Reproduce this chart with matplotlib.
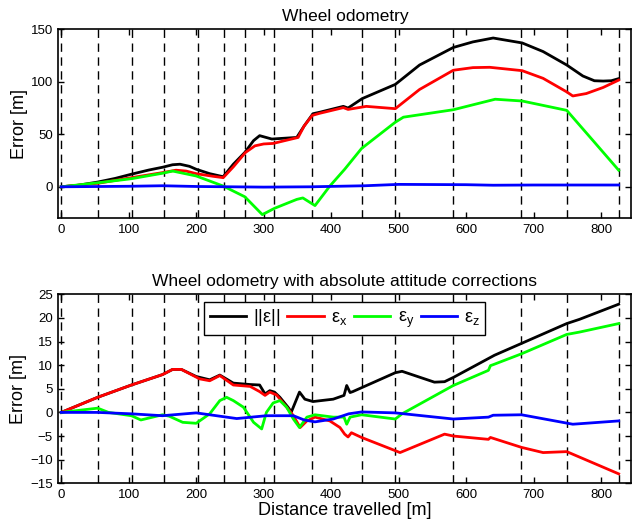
import matplotlib
matplotlib.use("Agg")
import matplotlib.pyplot as plt

plt.rcParams['font.family'] = ['Liberation Sans', 'DejaVu Sans']
plt.rcParams['mathtext.fontset'] = 'custom'
plt.rcParams['mathtext.rm'] = 'Liberation Sans'
plt.rcParams['mathtext.it'] = 'Liberation Sans'

# distances (m) where the dashed markers sit
markers = [0, 54, 105, 152, 203, 241, 272, 315, 372, 445, 495, 581, 682, 749, 826]

# --- Wheel odometry ---
top_norm_d = [0, 25, 54, 80, 104, 130, 150, 165, 176, 190, 200, 220, 240, 255, 272, 285, 294, 312, 349,
              360, 373, 383, 418, 425, 446, 495, 531, 581, 610, 640, 683, 714, 749, 773, 790, 803, 815, 826]
top_norm = [0, 1.5, 4.5, 8, 12, 16, 18.6, 21, 21.5, 19.5, 16.7, 12.5, 9.6, 21.5, 32.7, 44, 48.7, 45.5, 47,
            58, 69.6, 71, 76.6, 75, 84, 97.5, 116, 132.7, 138, 141.7, 137, 128.8, 116, 105.5, 101, 100.7, 101, 103]

top_x_d = [0, 54, 104, 150, 170, 185, 200, 225, 240, 255, 273, 287, 300, 314, 351, 360, 372, 383, 418,
           425, 452, 495, 531, 581, 610, 635, 683, 714, 749, 758, 778, 803, 826]
top_x = [0, 3.3, 8.7, 13.5, 15.8, 15, 12.5, 10, 8.7, 19, 32.7, 39, 40.8, 41.3, 47, 58, 68, 70, 75.4,
         73.7, 76.6, 74.4, 92.7, 111, 113.5, 113.8, 110.6, 103.3, 90.4, 86.5, 88.8, 94.6, 101.6]

top_y_d = [0, 54, 104, 150, 165, 200, 240, 272, 298, 316, 349, 358, 376, 398, 420, 445, 495, 507,
           581, 643, 683, 749, 788, 826]
top_y = [0, 3.8, 7.7, 12.9, 15, 10.3, 0.7, -9.5, -26.5, -20.5, -12, -10.6, -17.9, 0.7, 16.7, 36.5, 61.5, 66.3,
         73.4, 83.4, 81.7, 72.8, 44, 15.8]

top_z_d = [0, 100, 150, 200, 250, 300, 370, 450, 500, 600, 640, 700, 826]
top_z = [0, 0.5, 1, 0.3, 0, -0.3, 0, 1, 2.3, 2, 1.5, 1.7, 1.7]

# --- Wheel odometry with absolute attitude corrections ---
bot_norm_d = [0, 54, 104, 150, 165, 178, 200, 220, 235, 255, 280, 294, 302, 309, 316, 324, 336, 341,
              353, 361, 373, 403, 419, 423, 428, 432, 495, 505, 553, 568, 581, 642, 682, 749, 768, 826]
bot_norm = [0, 3.2, 5.8, 8, 9.1, 9.1, 7.6, 6.9, 7.9, 6.2, 5.9, 5.8, 3.9, 4.6, 4.3, 3.2, 1.1, 0.1,
            4.3, 2.8, 2.3, 2.8, 3.6, 5.7, 4.2, 4.4, 8.4, 8.7, 6.4, 6.5, 7.4, 12.1, 14.6, 18.8, 19.7, 22.9]

bot_x_d = [0, 54, 104, 150, 165, 178, 205, 220, 235, 255, 280, 294, 302, 309, 319, 334, 344, 354,
           364, 376, 398, 413, 420, 425, 430, 445, 495, 502, 568, 581, 633, 636, 682, 714, 749, 826]
bot_x = [0, 3.2, 5.8, 8, 9.1, 9.1, 7.1, 6.7, 7.8, 5.8, 5.5, 4.4, 3.6, 4.3, 3.7, 1.1, -0.7, -3.2,
         -1.8, -1, -1.8, -3.2, -4.6, -5.2, -4.3, -5.3, -8.1, -8.5, -4.6, -5, -5.7, -5.3, -7.4, -8.5, -8.3, -13]

bot_y_d = [0, 54, 70, 104, 118, 150, 160, 180, 200, 220, 235, 245, 255, 270, 285, 297, 304, 314, 324,
           334, 344, 353, 364, 376, 403, 419, 423, 428, 445, 495, 505, 581, 633, 636, 640, 682, 749, 768, 826]
bot_y = [0, 0.9, 0, -0.7, -1.6, -0.5, -0.8, -2.1, -2.3, -0.3, 2.5, 3.2, 2.5, 1.1, -2.1, -3.5, 0, 2, 2.5,
         1.1, -1.4, -3.2, -1, -0.5, -1, -1, -2.5, -1, -0.5, -1.4, -0.3, 5.7, 8.9, 9.9, 10.1, 12.4, 16.5, 17, 18.8]

bot_z_d = [0, 54, 104, 150, 200, 235, 260, 304, 344, 360, 376, 403, 426, 445, 470, 495, 581, 633,
           640, 682, 758, 826]
bot_z = [0, 0, -0.3, -0.7, -0.1, -0.8, -1.3, -0.7, -0.7, -1.6, -2, -1.4, -0.3, 0.1, 0, -0.1, -1.4, -1,
         -0.6, -0.5, -2.5, -1.8]

labels = [r'$||\varepsilon||$', r'$\varepsilon_{\rm x}$', r'$\varepsilon_{\rm y}$', r'$\varepsilon_{\rm z}$']
colors = ['black', 'red', '#00ff00', 'blue']

fig = plt.figure(figsize=(6.32, 5.24), dpi=100)
ax1 = fig.add_axes([0.0922, 0.5834, 0.9070, 0.3607])
ax2 = fig.add_axes([0.0922, 0.0777, 0.9070, 0.3607])

top = [(top_norm_d, top_norm), (top_x_d, top_x), (top_y_d, top_y), (top_z_d, top_z)]
bot = [(bot_norm_d, bot_norm), (bot_x_d, bot_x), (bot_y_d, bot_y), (bot_z_d, bot_z)]

for ax, series in [(ax1, top), (ax2, bot)]:
    for m in markers:
        ax.axvline(m, color='black', lw=1.0, dashes=(6, 4), zorder=1)
    for (d, v), c, lab in zip(series, colors, labels):
        ax.plot(d, v, color=c, lw=2.0, label=lab, zorder=3)
    ax.set_xlim(-4.4, 845)
    ax.set_xticks(range(0, 801, 100))
    ax.tick_params(direction='in', top=True, right=True, length=4, width=1, labelsize=9.5, pad=4)
    for s in ax.spines.values():
        s.set_linewidth(1.2)
    ax.set_ylabel('Error [m]', fontsize=13, labelpad=2)

ax1.set_ylim(-30, 150)
ax1.set_yticks([0, 50, 100, 150])
ax1.set_title('Wheel odometry', fontsize=12.5, pad=6)

ax2.set_ylim(-15, 25)
ax2.set_yticks(range(-15, 26, 5))
ax2.set_title('Wheel odometry with absolute attitude corrections', fontsize=12.5, pad=6)
ax2.set_xlabel('Distance travelled [m]', fontsize=13, labelpad=1)
leg = ax2.legend(loc='upper center', ncol=4, fontsize=13, fancybox=False, framealpha=1,
                 edgecolor='black', handlelength=2.0, columnspacing=0.4, handletextpad=0.4,
                 borderaxespad=0.4, borderpad=0.3)
leg.get_frame().set_linewidth(1.0)

plt.savefig('out.png', dpi=100)
